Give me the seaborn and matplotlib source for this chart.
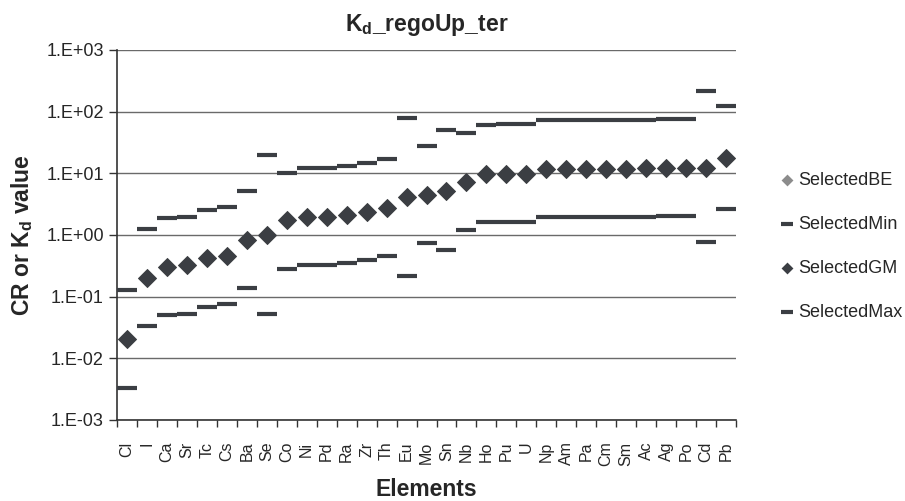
import numpy as np
import pandas as pd
import matplotlib
matplotlib.use("Agg")
import matplotlib.pyplot as plt
from matplotlib.ticker import FixedLocator, FuncFormatter
import seaborn as sns

elements = ["Cl", "I", "Ca", "Sr", "Tc", "Cs", "Ba", "Se", "Co", "Ni", "Pd", "Ra",
            "Zr", "Th", "Eu", "Mo", "Sn", "Nb", "Ho", "Pu", "U", "Np", "Am", "Pa",
            "Cm", "Sm", "Ac", "Ag", "Po", "Cd", "Pb"]

selected_gm = [0.0207, 0.204, 0.308, 0.324, 0.421, 0.458, 0.824, 1.0, 1.74, 1.99, 1.99, 2.12,
               2.37, 2.78, 4.10, 4.42, 5.24, 7.34, 9.9, 9.9, 9.9, 11.7, 11.7, 11.7,
               11.7, 11.7, 12.0, 12.2, 12.2, 12.4, 17.6]
selected_be = list(selected_gm)
selected_min = [0.0033, 0.0336, 0.0507, 0.0526, 0.0684, 0.0764, 0.137, 0.0532, 0.282, 0.324, 0.324, 0.357,
                0.395, 0.458, 0.215, 0.736, 0.567, 1.20, 1.61, 1.65, 1.65, 1.96, 1.96, 1.96,
                1.96, 1.96, 1.96, 2.04, 2.04, 0.764, 2.62]
selected_max = [0.129, 1.24, 1.87, 1.96, 2.55, 2.85, 5.19, 19.9, 10.3, 12.1, 12.1, 13.2,
                14.7, 17.1, 78.2, 27.5, 50.0, 44.7, 60.2, 62.5, 62.5, 72.6, 72.6, 72.6,
                72.6, 72.6, 72.6, 75.3, 75.3, 216.0, 124.0]

df = pd.DataFrame({"Element": elements, "SelectedBE": selected_be, "SelectedMin": selected_min,
                   "SelectedGM": selected_gm, "SelectedMax": selected_max})

sns.set_style("white")
plt.rcParams["font.family"] = ["Liberation Sans", "DejaVu Sans"]
plt.rcParams["mathtext.fontset"] = "custom"
plt.rcParams["mathtext.rm"] = "Liberation Sans"
plt.rcParams["mathtext.bf"] = "Liberation Sans:bold"

dark = "#3b3e43"
fig = plt.figure(figsize=(9.05, 5.01), dpi=100)
ax = fig.add_axes([0.1293, 0.1617, 0.6840, 0.7385])

ax.set_yscale("log")
for y in [1e-3, 1e-2, 1e-1, 1e0, 1e1, 1e2, 1e3]:
    ax.axhline(y, color="#6a6a6a", lw=1.0, zorder=0)

sns.scatterplot(data=df, x="Element", y="SelectedBE", marker="D", s=95, color="#8c8c8c",
                linewidth=0, ax=ax, label="SelectedBE", zorder=2)
sns.scatterplot(data=df, x="Element", y="SelectedMin", marker="_", s=215, color=dark,
                linewidth=3.0, ax=ax, label="SelectedMin", zorder=3)
sns.scatterplot(data=df, x="Element", y="SelectedGM", marker="D", s=95, color=dark,
                linewidth=0, ax=ax, label="SelectedGM", zorder=4)
sns.scatterplot(data=df, x="Element", y="SelectedMax", marker="_", s=215, color=dark,
                linewidth=3.0, ax=ax, label="SelectedMax", zorder=3)

n = len(elements)
ax.set_xlim(-0.5, n - 0.5)
ax.set_ylim(1e-3, 1e3)

ax.set_xticks(range(n))
ax.set_xticklabels(elements, rotation=90, fontsize=11.5)
ax.xaxis.set_minor_locator(FixedLocator(np.arange(-0.5, n, 1.0)))
ax.tick_params(axis="x", which="major", length=0, pad=15.5)
ax.tick_params(axis="x", which="minor", length=5, width=1, color="#333333", direction="out", bottom=True)

ax.yaxis.set_major_locator(FixedLocator([1e-3, 1e-2, 1e-1, 1e0, 1e1, 1e2, 1e3]))
ax.yaxis.set_minor_locator(FixedLocator([]))
ax.yaxis.set_major_formatter(FuncFormatter(lambda v, p: "1.E{:+03d}".format(int(round(np.log10(v))))))
ax.tick_params(axis="y", which="major", length=6, width=1, color="#333333", direction="out",
               left=True, labelsize=13, pad=3.5)

for side in ["top", "right"]:
    ax.spines[side].set_visible(False)
for side in ["left", "bottom"]:
    ax.spines[side].set_color("#333333")
    ax.spines[side].set_linewidth(1.2)

ax.set_xlabel("Elements", fontsize=16.5, fontweight="bold", labelpad=8.5)
ax.set_ylabel(r"CR or K$_\mathbf{d}$ value", fontsize=16.5, fontweight="bold", labelpad=8)
ax.set_title(r"K$_\mathbf{d}$_regoUp_ter", fontsize=16.5, fontweight="bold", pad=14)

ax.legend(loc="center left", bbox_to_anchor=(1.071, 0.469), frameon=False, fontsize=13,
          markerscale=0.62, labelspacing=1.5, handlelength=0.8, handletextpad=0.2,
          borderpad=0, borderaxespad=0)

fig.savefig("out.png", dpi=100)
